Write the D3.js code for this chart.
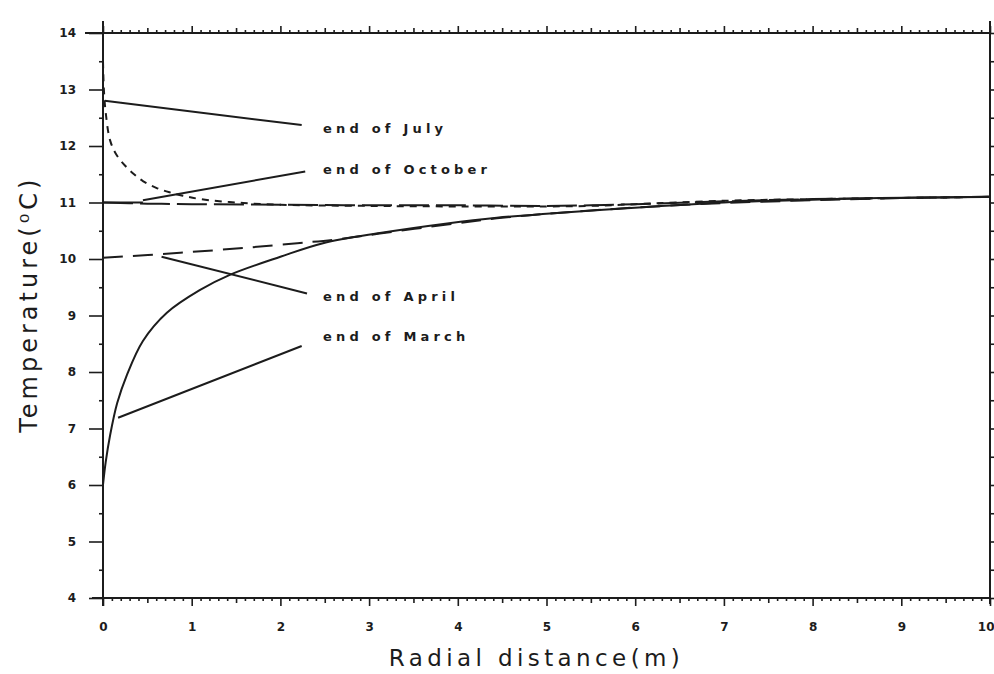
<!DOCTYPE html>
<html lang="en">
<head>
<meta charset="UTF-8">
<title>Radial temperature</title>
<style>
  body { margin: 0; background: #fff; }
  svg { display: block; }
</style>
</head>
<body>
<script src="https://cdn.jsdelivr.net/npm/d3@7"></script>
<script>
// distance (m) and temperature (deg C) per curve
var marchX = [0, 0.03, 0.08, 0.16, 0.27, 0.45, 0.72, 1.09, 1.43, 2.0, 2.48, 3.12, 3.88, 4.44, 5.0, 6.13, 7.0, 8.0, 8.76, 10.0];
var marchT = [6.0, 6.4, 6.88, 7.45, 7.95, 8.55, 9.05, 9.45, 9.72, 10.04, 10.28, 10.46, 10.63, 10.73, 10.8, 10.92, 11.0, 11.05, 11.08, 11.1];

var aprilX = [0, 0.87, 1.62, 2.19, 2.6, 3.12, 3.88, 4.44, 5.0, 6.0, 7.0, 8.0, 9.0, 10.0];
var aprilT = [10.02, 10.11, 10.2, 10.28, 10.34, 10.45, 10.61, 10.72, 10.8, 10.91, 10.99, 11.04, 11.08, 11.1];

var julyX = [0, 0.01, 0.03, 0.08, 0.15, 0.25, 0.35, 0.45, 0.6, 0.75, 0.9, 1.1, 1.5, 2, 3, 4, 5, 5.5, 6, 7, 8, 9, 10];
var julyT = [13.5, 13.0, 12.6, 12.1, 11.85, 11.65, 11.5, 11.38, 11.26, 11.18, 11.12, 11.06, 11.0, 10.96, 10.94, 10.93, 10.93, 10.94, 10.97, 11.03, 11.06, 11.08, 11.1];

var octX = [0, 0.5, 1, 2, 3, 4, 5, 5.5, 6, 7, 8, 9, 10];
var octT = [11.0, 10.98, 10.97, 10.96, 10.95, 10.95, 10.94, 10.95, 10.97, 11.02, 11.06, 11.08, 11.1];

var labelText = ['end of July', 'end of October', 'end of April', 'end of March'];
var pointerFrom = [[0.02, 12.8], [0.45, 11.04], [0.66, 10.04], [0.17, 7.19]];
var pointerTo = [[2.24, 12.37], [2.28, 11.55], [2.3, 9.39], [2.24, 8.46]];
var labelAt = [[2.48, 12.23], [2.48, 11.5], [2.48, 9.26], [2.48, 8.55]];

var xTicks = [0, 1, 2, 3, 4, 5, 6, 7, 8, 9, 10];
var yTicks = [4, 5, 6, 7, 8, 9, 10, 11, 12, 13, 14];

var width = 994, height = 674;
var ink = '#1c1c1c';

var svg = d3.select('body').append('svg')
    .attr('width', width)
    .attr('height', height);

var x = d3.scaleLinear().domain([0, 10]).range([103, 990]);
var y = d3.scaleLinear().domain([4, 14]).range([598, 33]);

function range(a, b, step) {
    return d3.range(Math.round((b - a) / step) + 1).map(function(i) { return +(a + i * step).toFixed(2); });
}
var xTenths = range(0, 10, 0.1).filter(function(v) { return Math.abs(v * 2 - Math.round(v * 2)) > 1e-6; });
var xHalves = range(0.5, 9.5, 1);
var yHalves = range(4.5, 13.5, 1);

function styleAxis(g) {
    g.select('.domain').remove();
    g.selectAll('line').attr('stroke', ink).attr('stroke-width', 1.6);
    g.selectAll('text')
        .attr('fill', ink)
        .style('font-family', 'DejaVu Sans, sans-serif')
        .style('font-weight', 'bold')
        .style('font-size', '12px');
}

// bottom axis
svg.append('g').attr('transform', 'translate(0,' + y(4) + ')')
    .call(d3.axisBottom(x).tickValues(xTenths).tickSize(3).tickFormat(''))
    .call(styleAxis);
svg.append('g').attr('transform', 'translate(0,' + y(4) + ')')
    .call(d3.axisBottom(x).tickValues(xHalves).tickSize(5).tickFormat(''))
    .call(styleAxis);
var bottom = svg.append('g').attr('transform', 'translate(0,' + y(4) + ')')
    .call(d3.axisBottom(x).tickValues(xTicks).tickSize(8).tickPadding(16).tickFormat(d3.format('d')))
    .call(styleAxis);
// last label sits against the page edge
bottom.selectAll('text').filter(function(d) { return d === 10; })
    .attr('text-anchor', 'end').attr('x', 4);

// top axis
svg.append('g').attr('transform', 'translate(0,' + y(14) + ')')
    .call(d3.axisTop(x).tickValues(xTenths).tickSize(3).tickFormat(''))
    .call(styleAxis);
svg.append('g').attr('transform', 'translate(0,' + y(14) + ')')
    .call(d3.axisTop(x).tickValues(xHalves).tickSize(5).tickFormat(''))
    .call(styleAxis);
svg.append('g').attr('transform', 'translate(0,' + y(14) + ')')
    .call(d3.axisTop(x).tickValues(xTicks).tickSize(7).tickFormat(''))
    .call(styleAxis);

// left axis
svg.append('g').attr('transform', 'translate(' + x(0) + ',0)')
    .call(d3.axisLeft(y).tickValues(yHalves).tickSize(4).tickFormat(''))
    .call(styleAxis);
svg.append('g').attr('transform', 'translate(' + x(0) + ',0)')
    .call(d3.axisLeft(y).tickValues(yTicks).tickSize(14).tickPadding(13).tickFormat(d3.format('d')))
    .call(styleAxis);

// right axis
svg.append('g').attr('transform', 'translate(' + x(10) + ',0)')
    .call(d3.axisRight(y).tickValues(yHalves).tickSize(4).tickFormat(''))
    .call(styleAxis);
svg.append('g').attr('transform', 'translate(' + x(10) + ',0)')
    .call(d3.axisRight(y).tickValues(yTicks).tickSize(6).tickFormat(''))
    .call(styleAxis);

// frame, with the plotter overhang on the left
var frame = svg.append('g').attr('stroke', ink).attr('stroke-width', 2).attr('fill', 'none');
frame.append('line').attr('x1', x(0) - 18).attr('x2', x(10)).attr('y1', y(14)).attr('y2', y(14));
frame.append('line').attr('x1', x(0) - 11).attr('x2', x(10)).attr('y1', y(4)).attr('y2', y(4));
frame.append('line').attr('x1', x(0)).attr('x2', x(0)).attr('y1', y(14) - 12).attr('y2', y(4) + 8);
frame.append('line').attr('x1', x(10)).attr('x2', x(10)).attr('y1', y(14) - 12).attr('y2', y(4) + 6);

// curves
var line = d3.line()
    .x(function(d) { return x(d[0]); })
    .y(function(d) { return y(d[1]); })
    .curve(d3.curveCatmullRom.alpha(0.5));

function pairs(xs, ts) {
    return xs.map(function(v, i) { return [v, ts[i]]; });
}

var series = [
    { name: 'July', data: pairs(julyX, julyT), dash: '7,6' },
    { name: 'October', data: pairs(octX, octT), dash: '30,7' },
    { name: 'April', data: pairs(aprilX, aprilT), dash: '20,10' },
    { name: 'March', data: pairs(marchX, marchT), dash: null }
];

svg.append('g').selectAll('path')
    .data(series)
    .enter()
    .append('path')
    .attr('d', function(d) { return line(d.data); })
    .attr('fill', 'none')
    .attr('stroke', ink)
    .attr('stroke-width', 2)
    .attr('stroke-dasharray', function(d) { return d.dash; });

// solid start of the October line along 11
svg.append('line')
    .attr('x1', x(0)).attr('x2', x(0.45))
    .attr('y1', y(octT[0])).attr('y2', y(octT[0]))
    .attr('stroke', ink).attr('stroke-width', 2);

// pointer lines and labels
var notes = labelText.map(function(t, i) {
    return { text: t, from: pointerFrom[i], to: pointerTo[i], at: labelAt[i] };
});

svg.append('g').selectAll('line')
    .data(notes)
    .enter()
    .append('line')
    .attr('x1', function(d) { return x(d.from[0]); })
    .attr('y1', function(d) { return y(d.from[1]); })
    .attr('x2', function(d) { return x(d.to[0]); })
    .attr('y2', function(d) { return y(d.to[1]); })
    .attr('stroke', ink)
    .attr('stroke-width', 2);

svg.append('g').selectAll('text')
    .data(notes)
    .enter()
    .append('text')
    .attr('x', function(d) { return x(d.at[0]); })
    .attr('y', function(d) { return y(d.at[1]); })
    .attr('fill', ink)
    .style('font-family', 'DejaVu Sans, sans-serif')
    .style('font-weight', 'bold')
    .style('font-size', '13px')
    .style('letter-spacing', '4.2px')
    .text(function(d) { return d.text; });

// axis titles
svg.append('text')
    .attr('x', (x(0) + x(10)) / 2 - 10)
    .attr('y', 666)
    .attr('text-anchor', 'middle')
    .attr('fill', ink)
    .style('font-family', 'DejaVu Sans, sans-serif')
    .style('font-size', '23px')
    .style('letter-spacing', '4.4px')
    .text('Radial distance(m)');

svg.append('text')
    .attr('transform', 'translate(37,' + y(9.2) + ') rotate(-90)')
    .attr('text-anchor', 'middle')
    .attr('fill', ink)
    .style('font-family', 'DejaVu Sans, sans-serif')
    .style('font-size', '24px')
    .style('letter-spacing', '4px')
    .text('Temperature(\u2070C)');
</script>
</body>
</html>
